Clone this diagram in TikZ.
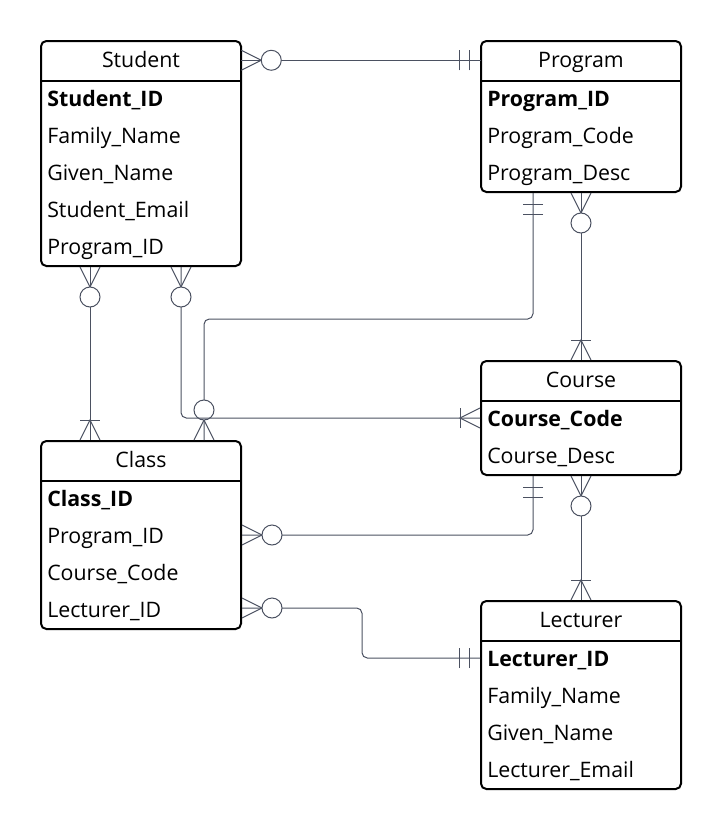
\documentclass[tikz,border=0pt]{standalone}
\usepackage{fontspec}
\setmainfont{Open Sans}
\usetikzlibrary{positioning,calc}

\definecolor{linkgray}{HTML}{4B5161}

\tikzset{
	entity/.style={draw=black, line width=1.5pt, rounded corners=4pt, anchor=north west,
		minimum width=150pt, inner sep=0pt},
	head/.style={anchor=north, minimum width=150pt, minimum height=30pt, inner sep=0pt,
		text height=11.5pt, text depth=0pt, font=\fontsize{16}{18}\selectfont},
	field/.style={anchor=west, text width=139.5pt, inner xsep=5.25pt, inner ysep=0pt,
		text height=11.5pt, text depth=0pt, font=\fontsize{16}{18}\selectfont},
	keyfield/.style={field, font=\fontsize{16}{18}\selectfont\bfseries},
	link/.style={draw=linkgray, line width=0.75pt},
	zeromany/.pic={
		\draw[link] (0,-10) -- (20,0) -- (0,10);
		\draw[link, fill=white] (30,0) circle[radius=7.5pt];
	},
	onemany/.pic={
		\draw[link] (0,-10) -- (20,0) -- (0,10);
		\draw[link] (20,-10) -- (20,10);
	},
	oneonly/.pic={
		\draw[link] (11,-10) -- (11,10);
		\draw[link] (21,-10) -- (21,10);
	}
}

\begin{document}
\begin{tikzpicture}[x=0.75pt, y=-0.75pt]
	\useasboundingbox (0,0) rectangle (720,828);

	% entities
	\node[entity, minimum height=168.75pt] (student) at (40,40) {};
	\node[head] (student-t) at (student.north) {Student};
	\draw[line width=1.5pt] (student-t.south west) -- (student-t.south east);
	\node[keyfield] (student-1) at ($(student.north west)+(0,59)$) {Student\_ID};
	\foreach \t [count=\i from 2] in {Family\_Name,Given\_Name,Student\_Email,Program\_ID}
		\node[field] (student-\i) at ($(student.north west)+(0,22+37*\i)$) {\t};

	\node[entity, minimum height=113.25pt] (program) at (480,40) {};
	\node[head] (program-t) at (program.north) {Program};
	\draw[line width=1.5pt] (program-t.south west) -- (program-t.south east);
	\node[keyfield] (program-1) at ($(program.north west)+(0,59)$) {Program\_ID};
	\foreach \t [count=\i from 2] in {Program\_Code,Program\_Desc}
		\node[field] (program-\i) at ($(program.north west)+(0,22+37*\i)$) {\t};

	\node[entity, minimum height=85.5pt] (course) at (480,360) {};
	\node[head] (course-t) at (course.north) {Course};
	\draw[line width=1.5pt] (course-t.south west) -- (course-t.south east);
	\node[keyfield] (course-1) at ($(course.north west)+(0,59)$) {Course\_Code};
	\node[field] (course-2) at ($(course.north west)+(0,96)$) {Course\_Desc};

	\node[entity, minimum height=141pt] (class) at (40,440) {};
	\node[head] (class-t) at (class.north) {Class};
	\draw[line width=1.5pt] (class-t.south west) -- (class-t.south east);
	\node[keyfield] (class-1) at ($(class.north west)+(0,59)$) {Class\_ID};
	\foreach \t [count=\i from 2] in {Program\_ID,Course\_Code,Lecturer\_ID}
		\node[field] (class-\i) at ($(class.north west)+(0,22+37*\i)$) {\t};

	\node[entity, minimum height=141pt] (lecturer) at (480,600) {};
	\node[head] (lecturer-t) at (lecturer.north) {Lecturer};
	\draw[line width=1.5pt] (lecturer-t.south west) -- (lecturer-t.south east);
	\node[keyfield] (lecturer-1) at ($(lecturer.north west)+(0,59)$) {Lecturer\_ID};
	\foreach \t [count=\i from 2] in {Family\_Name,Given\_Name,Lecturer\_Email}
		\node[field] (lecturer-\i) at ($(lecturer.north west)+(0,22+37*\i)$) {\t};

	% connector ends
	\coordinate (s1) at ($(student.south west)+(50,0)$);
	\coordinate (s2) at ($(student.south west)+(141,0)$);
	\coordinate (p1) at ($(program.south west)+(53,0)$);
	\coordinate (k1) at ($(course.south west)+(53,0)$);
	\coordinate (c1) at ($(class.north west)+(50,0)$);
	\coordinate (c2) at ($(class.north west)+(164,0)$);
	\coordinate (k2) at ($(course.north west)+(0,58)$);
	\coordinate (c3) at ($(class.north east)+(0,95)$);
	\coordinate (c4) at ($(class.north east)+(0,168)$);
	\coordinate (l1) at ($(lecturer.north west)+(0,58)$);

	% relationships
	\draw[link] (student-t.east) -- (program-t.west);
	\pic at (student-t.east) {zeromany};
	\pic[rotate=180] at (program-t.west) {oneonly};

	\draw[link] (s1) -- (c1);
	\pic[rotate=-90] at (s1) {zeromany};
	\pic[rotate=90] at (c1) {onemany};

	\draw[link, rounded corners=4pt] (p1) -- ++(0,126) -| (c2);
	\pic[rotate=-90] at (p1) {oneonly};
	\pic[rotate=90] at (c2) {zeromany};

	\draw[link, rounded corners=4pt] (s2) |- (k2);
	\pic[rotate=-90] at (s2) {zeromany};
	\pic[rotate=180] at (k2) {onemany};

	\draw[link] (program.south) -- (course.north);
	\pic[rotate=-90] at (program.south) {zeromany};
	\pic[rotate=90] at (course.north) {onemany};

	\draw[link, rounded corners=4pt] (k1) |- (c3);
	\pic[rotate=-90] at (k1) {oneonly};
	\pic at (c3) {zeromany};

	\draw[link] (course.south) -- (lecturer.north);
	\pic[rotate=-90] at (course.south) {zeromany};
	\pic[rotate=90] at (lecturer.north) {onemany};

	\draw[link, rounded corners=4pt] (c4) -- ++(120,0) |- (l1);
	\pic at (c4) {zeromany};
	\pic[rotate=180] at (l1) {oneonly};
\end{tikzpicture}
\end{document}
